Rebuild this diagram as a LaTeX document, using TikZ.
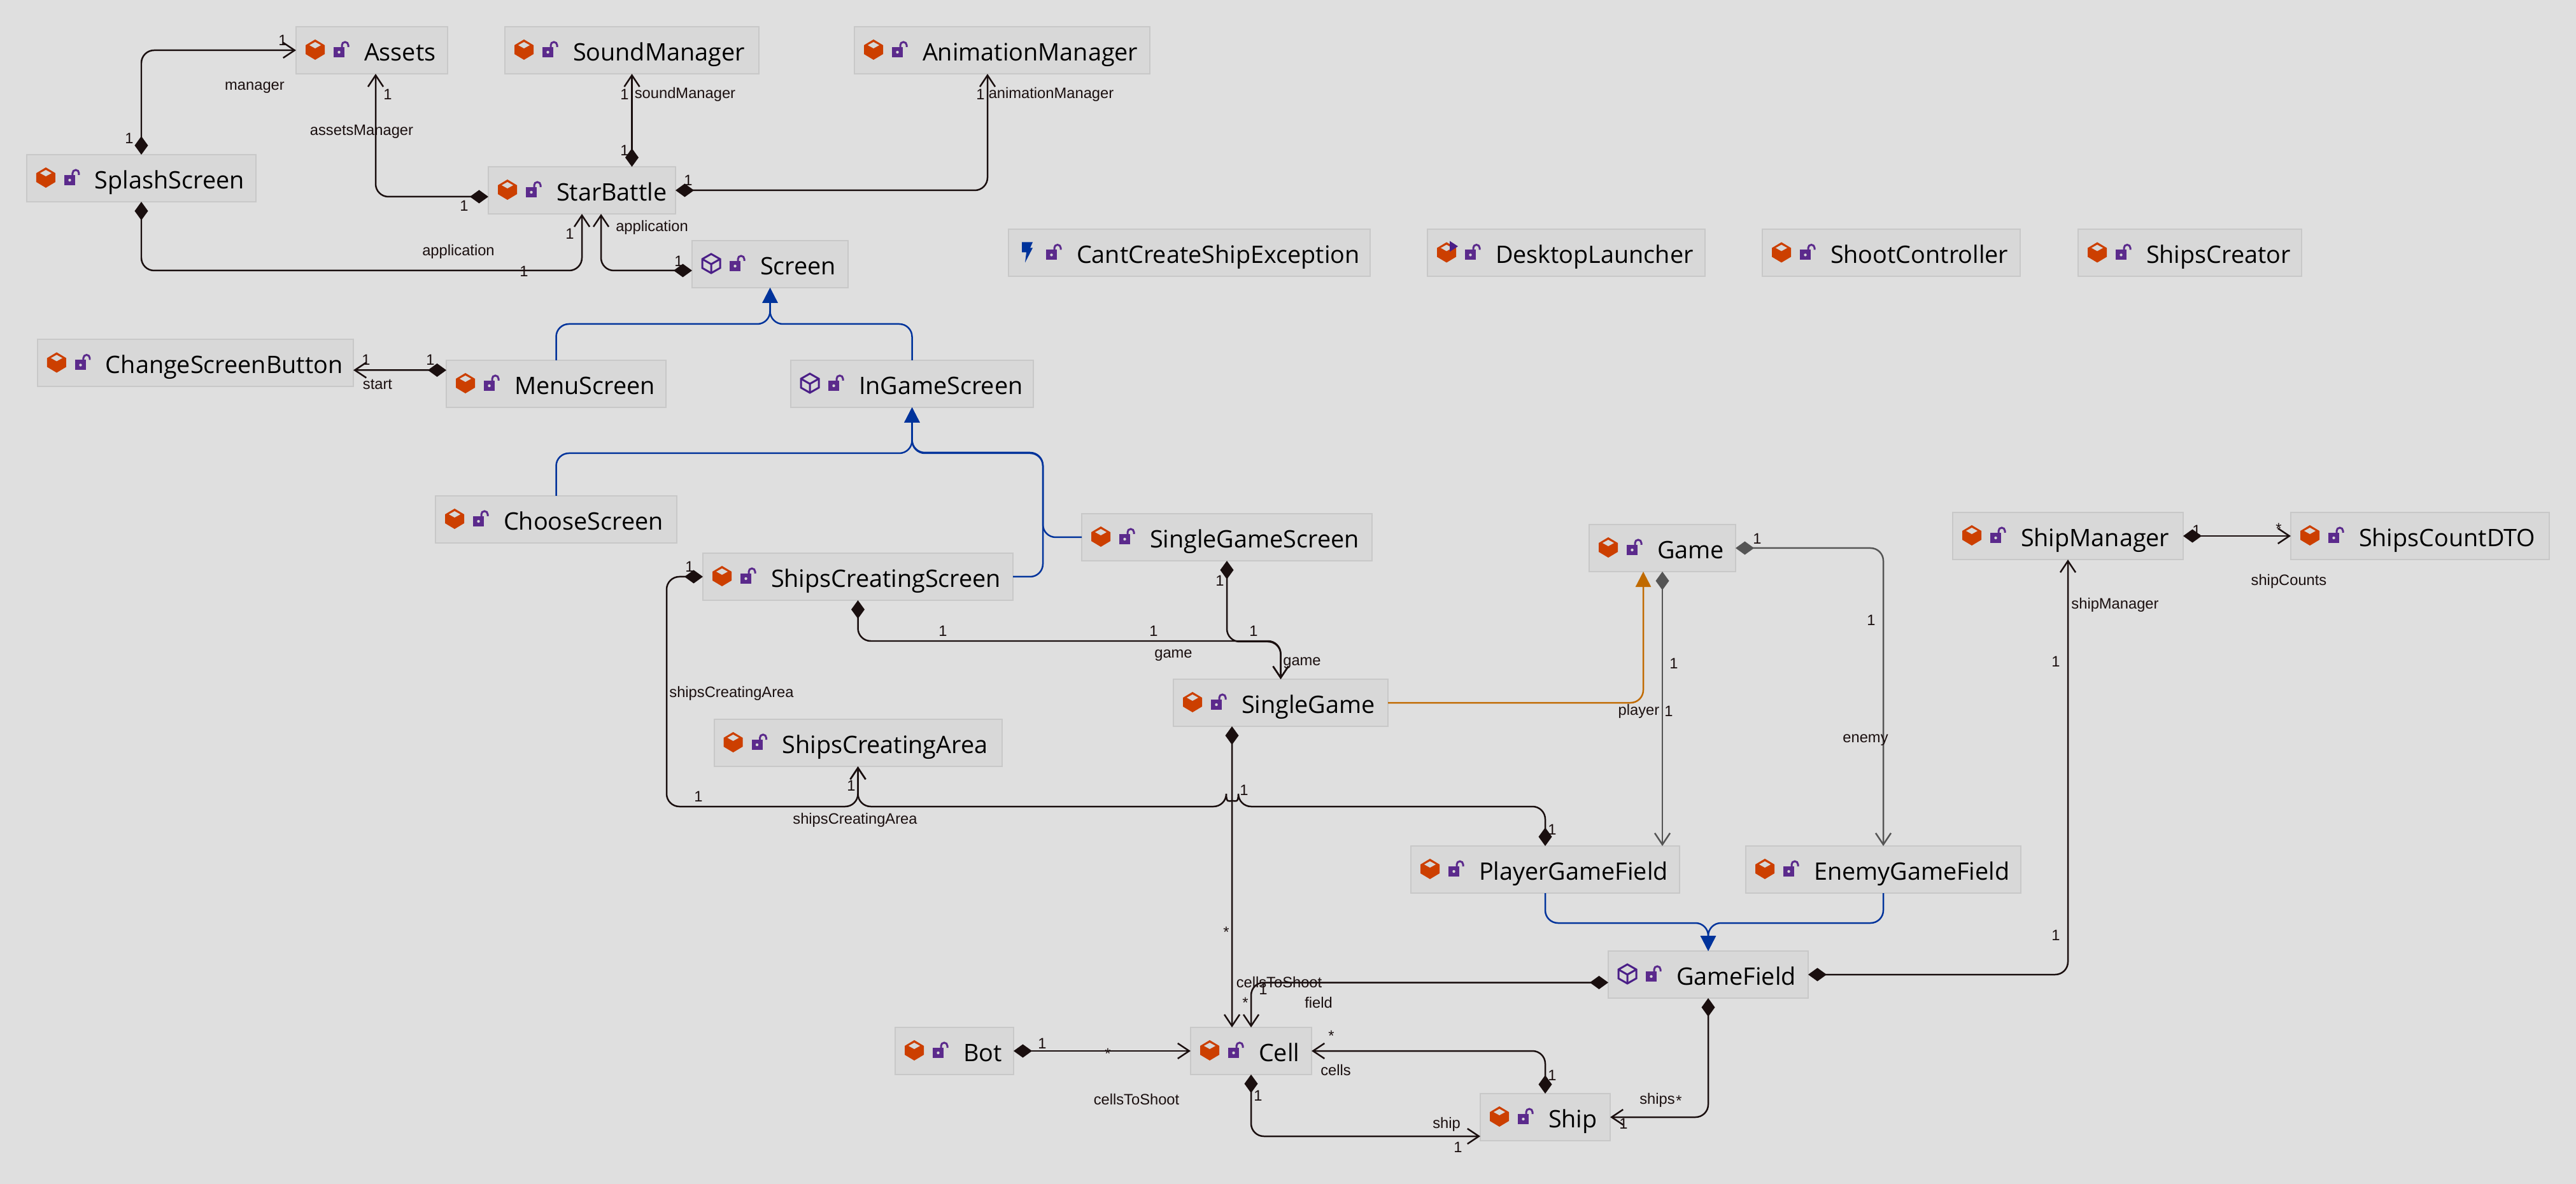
\documentclass[tikz,border=0pt]{standalone}
\usepackage{fontspec}
\usepackage{tikz}
\usetikzlibrary{arrows.meta, calc, positioning}
\setmainfont{Open Sans}
\newfontfamily\lblfont{Liberation Sans}

\definecolor{pagebg}{HTML}{DFDFDF}
\definecolor{boxfill}{HTML}{D8D8D8}
\definecolor{boxline}{HTML}{C8C8C8}
\definecolor{iconorange}{HTML}{CC3F00}
\definecolor{iconpurple}{HTML}{4A1E87}
\definecolor{lockpurple}{HTML}{5B2A8C}
\definecolor{genblue}{HTML}{00339B}
\definecolor{implorange}{HTML}{C06A00}
\definecolor{assocblack}{HTML}{1A0F0F}
\definecolor{assocgray}{HTML}{555555}

% icons are drawn from the north west corner of the box
\newcommand{\lockicon}{
    \fill[lockpurple] (.59,-.32) rectangle (.76,-.48);
    \fill[boxfill] (.675,-.40) circle (.022);
    \draw[lockpurple, line width=.03cm] (.72,-.33) -- (.72,-.29) arc[start angle=180, end angle=0, radius=.05] -- (.82,-.32);
}
\newcommand{\classicon}{
    \fill[iconorange] (.30,-.20) -- (.45,-.29) -- (.45,-.43) -- (.30,-.52) -- (.15,-.43) -- (.15,-.29) -- cycle;
    \fill[boxfill] (.21,-.29) -- (.30,-.24) -- (.39,-.29) -- (.30,-.34) -- cycle;
}
\newcommand{\ifaceicon}{
    \draw[iconpurple, line width=.03cm] (.30,-.21) -- (.44,-.29) -- (.44,-.43) -- (.30,-.51) -- (.16,-.43) -- (.16,-.29) -- cycle;
    \draw[iconpurple, line width=.03cm] (.16,-.29) -- (.30,-.37) -- (.44,-.29) (.30,-.37) -- (.30,-.51);
}
\newcommand{\boltIcon}{
    \fill[genblue] (.21,-.20) -- (.38,-.20) -- (.34,-.29) -- (.38,-.29) -- (.26,-.52) -- (.28,-.36) -- (.21,-.36) -- cycle;
}
\newcommand{\runIcon}{
    \fill[iconpurple] (.35,-.18) -- (.48,-.265) -- (.35,-.35) -- cycle;
}

\tikzstyle{typebox} = [draw=boxline, fill=boxfill, line width=.02cm, anchor=north west, outer sep=0pt,
    inner xsep=.21cm, inner ysep=0pt, minimum width=#1cm, minimum height=.74cm, text width=#1cm-.42cm,
    align=left, text height=.36cm, text depth=.03cm, font=\fontsize{10.75}{12}\selectfont,
    execute at begin node={\hyphenpenalty=10000\hspace*{.86cm}}]
\tikzstyle{lbl} = [inner sep=0pt, yshift=-.025cm, text=assocblack, font=\lblfont\fontsize{6.75}{8}\selectfont]
\tikzstyle{assoc} = [draw=assocblack, line width=.025cm, rounded corners=.2cm,
    {Diamond[length=.29cm,width=.21cm]}-{Straight Barb[length=.18cm,width=.24cm]}]
\tikzstyle{grayassoc} = [assoc, draw=assocgray, fill=none, color=assocgray]
\tikzstyle{extends} = [draw=genblue, line width=.025cm, rounded corners=.2cm, -{Triangle[length=.24cm,width=.24cm,fill=genblue]}]
\tikzstyle{implements} = [draw=implorange, line width=.025cm, rounded corners=.2cm, -{Triangle[length=.24cm,width=.24cm,fill=implorange]}]

\begin{document}
\begin{tikzpicture}[>=Latex]
    \fill[pagebg] (0,0) rectangle (40.46,-18.6);
    \useasboundingbox (0,0) rectangle (40.46,-18.6);

    % upper part
    \node[typebox=2.38] (Assets) at (4.65,-.42) {Assets};
    \node[typebox=3.99, right=.9cm of Assets] (SoundManager) {SoundManager};
    \node[typebox=4.64, right=1.5cm of SoundManager] (AnimationManager) {AnimationManager};
    \node[typebox=3.60, below left=1.27cm and .63cm of Assets] (SplashScreen) {SplashScreen};
    \node[typebox=2.94, below right=1.46cm and .64cm of Assets] (StarBattle) {StarBattle};
    \node[typebox=2.45, below right=.42cm and .26cm of StarBattle] (Screen) {Screen};
    \node[typebox=3.45, below left=1.14cm and .41cm of Screen] (MenuScreen) {MenuScreen};
    \node[typebox=4.96, left=1.46cm of MenuScreen, yshift=.325cm] (ChangeScreenButton) {ChangeScreenButton};
    \node[typebox=3.81, right=1.96cm of MenuScreen] (InGameScreen) {InGameScreen};
    \node[typebox=3.79, below=1.39cm of MenuScreen] (ChooseScreen) {ChooseScreen};

    % row without connectors
    \node[typebox=5.68, right=2.52cm of Screen, yshift=.175cm] (CantCreateShipException) {CantCreateShipException};
    \node[typebox=4.36, right=.9cm of CantCreateShipException] (DesktopLauncher) {DesktopLauncher};
    \node[typebox=4.05, right=.9cm of DesktopLauncher] (ShootController) {ShootController};
    \node[typebox=3.51, right=.91cm of ShootController] (ShipsCreator) {ShipsCreator};

    % game part
    \node[typebox=4.87, below right=.16cm and .41cm of ChooseScreen] (ShipsCreatingScreen) {ShipsCreatingScreen};
    \node[typebox=4.56, below right=1.67cm and .76cm of InGameScreen] (SingleGameScreen) {SingleGameScreen};
    \node[typebox=3.37, below right=1.24cm and 2.52cm of ShipsCreatingScreen] (SingleGame) {SingleGame};
    \node[typebox=4.52, below=1.87cm of ShipsCreatingScreen] (ShipsCreatingArea) {ShipsCreatingArea};
    \node[typebox=2.30, above right=1.69cm and 3.16cm of SingleGame] (Game) {Game};
    \node[typebox=3.62, right=3.41cm of Game, yshift=.19cm] (ShipManager) {ShipManager};
    \node[typebox=4.06, right=1.69cm of ShipManager] (ShipsCountDTO) {ShipsCountDTO};
    \node[typebox=4.22, below right=1.88cm and .36cm of SingleGame] (PlayerGameField) {PlayerGameField};
    \node[typebox=4.32, right=1.04cm of PlayerGameField] (EnemyGameField) {EnemyGameField};
    \node[typebox=3.14, below=.91cm of PlayerGameField, xshift=2.56cm] (GameField) {GameField};
    \node[typebox=1.90, below left=.46cm and 4.66cm of GameField] (Cell) {Cell};
    \node[typebox=1.86, left=2.78cm of Cell] (Bot) {Bot};
    \node[typebox=2.04, below right=.30cm and 2.65cm of Cell] (Ship) {Ship};

    % icons
    \foreach \boxname in {Assets, SoundManager, AnimationManager, SplashScreen, StarBattle, MenuScreen,
        ChangeScreenButton, ChooseScreen, ShootController, ShipsCreator, ShipsCreatingScreen,
        SingleGameScreen, SingleGame, ShipsCreatingArea, Game, ShipManager, ShipsCountDTO,
        PlayerGameField, EnemyGameField, Cell, Bot, Ship, DesktopLauncher}
        \begin{scope}[shift={(\boxname.north west)}] \classicon \end{scope};
    \foreach \boxname in {Screen, InGameScreen, GameField}
        \begin{scope}[shift={(\boxname.north west)}] \ifaceicon \end{scope};
    \begin{scope}[shift={(CantCreateShipException.north west)}] \boltIcon \end{scope}
    \begin{scope}[shift={(DesktopLauncher.north west)}] \runIcon \end{scope}
    \foreach \boxname in {Assets, SoundManager, AnimationManager, SplashScreen, StarBattle, MenuScreen,
        ChangeScreenButton, ChooseScreen, ShootController, ShipsCreator, ShipsCreatingScreen,
        SingleGameScreen, SingleGame, ShipsCreatingArea, Game, ShipManager, ShipsCountDTO,
        PlayerGameField, EnemyGameField, Cell, Bot, Ship, DesktopLauncher, Screen, InGameScreen,
        GameField, CantCreateShipException}
        \begin{scope}[shift={(\boxname.north west)}] \lockicon \end{scope};

    % associations
    \draw[assoc] (SplashScreen.north) |- (Assets.west);
    \draw[assoc] ($(StarBattle.west)+(0,-.1)$) -| ($(Assets.south)+(.06,0)$);
    \draw[assoc] (StarBattle.north -| SoundManager.south) -- (SoundManager.south);
    \draw[assoc] (StarBattle.east) -| ($(AnimationManager.south)+(-.23,0)$);
    \draw[assoc] (SplashScreen.south) -- ++(0,-1.08) -| (StarBattle.south);
    \draw[assoc] ($(Screen.west)+(0,-.1)$) -| ($(StarBattle.south)+(.3,0)$);
    \draw[assoc] ($(MenuScreen.west)+(0,.215)$) -- ($(ChangeScreenButton.east)+(0,-.11)$);
    \draw[assoc] (ShipsCreatingScreen.west) -- ++(-.57,0) -- ++(0,-3.61) -| (ShipsCreatingArea.south);
    \draw[assoc] (PlayerGameField.north) -- ++(0,.62) -- ++(-4.82,0)
        arc[start angle=0, end angle=180, x radius=.095, y radius=.09] -| (ShipsCreatingArea.south);
    \draw[assoc] (ShipsCreatingScreen.south) -- ++(0,-.64) -| (SingleGame.north);
    \draw[assoc] (SingleGameScreen.south) -- ++(0,-1.27) -| (SingleGame.north);
    \draw[assoc] ($(SingleGame.south)+(-.765,0)$) -- ($(Cell.north)+(-.3,0)$);
    \draw[assoc] ($(GameField.west)+(0,-.125)$) -| (Cell.north);
    \draw[assoc] (Bot.east) -- (Cell.west);
    \draw[assoc] (Ship.north) |- (Cell.east);
    \draw[assoc] (Cell.south) |- ($(Ship.west)+(0,-.3)$);
    \draw[assoc] (GameField.south) |- (Ship.east);
    \draw[assoc] (GameField.east) -| (ShipManager.south);
    \draw[assoc] (ShipManager.east) -- (ShipsCountDTO.west);
    \draw[grayassoc] (Game.south) -- (Game.south |- PlayerGameField.north);
    \draw[grayassoc] (Game.east) -| (EnemyGameField.north);

    % inheritance
    \draw[extends] (MenuScreen.north) -- ++(0,.57) -| (Screen.south);
    \draw[extends] (InGameScreen.north) -- ++(0,.57) -| (Screen.south);
    \draw[extends] (ChooseScreen.north) -- ++(0,.67) -| (InGameScreen.south);
    \draw[extends] (SingleGameScreen.west) -- ++(-.61,0) -- ++(0,1.32) -| (InGameScreen.south);
    \draw[extends] (ShipsCreatingScreen.east) -- ++(.47,0) -- ++(0,1.95) -| (InGameScreen.south);
    \draw[extends] (PlayerGameField.south) -- ++(0,-.47) -| (GameField.north);
    \draw[extends] (EnemyGameField.south) -- ++(0,-.47) -| (GameField.north);
    \draw[implements] (SingleGame.east) -| ($(Game.south)+(-.3,0)$);

    % role names
    \node[lbl] (lblManager) at (4.00,-1.35) {manager};
    \node[lbl] (lblAssetsManager) at (5.68,-2.04) {assetsManager};
    \node[lbl] (lblSoundManager) at (10.76,-1.46) {soundManager};
    \node[lbl] (lblAnimationManager) at (16.51,-1.46) {animationManager};
    \node[lbl] (lblApplicationA) at (7.20,-3.93) {application};
    \node[lbl] (lblApplicationB) at (10.24,-3.55) {application};
    \node[lbl] (lblStart) at (5.93,-6.01) {start};
    \node[lbl] (lblAreaA) at (11.49,-10.87) {shipsCreatingArea};
    \node[lbl] (lblAreaB) at (13.43,-12.86) {shipsCreatingArea};
    \node[lbl] (lblGameA) at (18.43,-10.27) {game};
    \node[lbl] (lblGameB) at (20.45,-10.39) {game};
    \node[lbl] (lblPlayer) at (25.74,-11.15) {player};
    \node[lbl] (lblEnemy) at (29.30,-11.60) {enemy};
    \node[lbl] (lblShipManager) at (33.22,-9.48) {shipManager};
    \node[lbl] (lblShipCounts) at (35.95,-9.11) {shipCounts};
    \node[lbl] (lblCellsShootA) at (20.09,-15.41) {cellsToShoot};
    \node[lbl] (lblField) at (20.71,-15.73) {field};
    \node[lbl] (lblCellsShootB) at (17.85,-17.25) {cellsToShoot};
    \node[lbl] (lblCells) at (20.98,-16.79) {cells};
    \node[lbl] (lblShip) at (22.72,-17.64) {ship};
    \node[lbl] (lblShips) at (26.03,-17.26) {ships};

    % multiplicities
    \node[lbl] (oneA) at (4.44,-.61) {1};
    \node[lbl] (oneB) at (2.03,-2.15) {1};
    \node[lbl] (oneC) at (6.09,-1.46) {1};
    \node[lbl] (oneD) at (7.29,-3.21) {1};
    \node[lbl] (oneE) at (9.81,-1.46) {1};
    \node[lbl] (oneF) at (9.81,-2.34) {1};
    \node[lbl] (oneG) at (10.81,-2.81) {1};
    \node[lbl] (oneH) at (15.40,-1.46) {1};
    \node[lbl] (oneI) at (8.23,-4.24) {1};
    \node[lbl] (oneJ) at (8.95,-3.65) {1};
    \node[lbl] (oneK) at (10.66,-4.08) {1};
    \node[lbl] (oneL) at (5.75,-5.63) {1};
    \node[lbl] (oneM) at (6.76,-5.63) {1};
    \node[lbl] (oneN) at (10.83,-8.88) {1};
    \node[lbl] (oneO) at (10.97,-12.49) {1};
    \node[lbl] (oneP) at (13.37,-12.32) {1};
    \node[lbl] (oneQ) at (24.38,-13.01) {1};
    \node[lbl] (oneR) at (14.81,-9.89) {1};
    \node[lbl] (oneS) at (18.12,-9.89) {1};
    \node[lbl] (oneT) at (19.69,-9.89) {1};
    \node[lbl] (oneU) at (19.16,-9.10) {1};
    \node[lbl] (oneV) at (19.54,-12.39) {1};
    \node[lbl] (oneW) at (26.29,-10.40) {1};
    \node[lbl] (oneX) at (26.21,-11.15) {1};
    \node[lbl] (oneY) at (27.60,-8.44) {1};
    \node[lbl] (oneZ) at (29.39,-9.72) {1};
    \node[lbl] (oneAA) at (34.50,-8.31) {1};
    \node[lbl] (oneAB) at (32.29,-10.37) {1};
    \node[lbl] (oneAC) at (32.29,-14.67) {1};
    \node[lbl] (oneAD) at (19.84,-15.52) {1};
    \node[lbl] (oneAE) at (16.37,-16.37) {1};
    \node[lbl] (oneAF) at (24.38,-16.87) {1};
    \node[lbl] (oneAG) at (19.76,-17.19) {1};
    \node[lbl] (oneAH) at (22.90,-18.00) {1};
    \node[lbl] (oneAI) at (25.50,-17.63) {1};

    \node[lbl] (manyA) at (35.79,-8.28) {*};
    \node[lbl] (manyB) at (19.26,-14.62) {*};
    \node[lbl] (manyC) at (19.56,-15.73) {*};
    \node[lbl] (manyD) at (17.40,-16.53) {*};
    \node[lbl] (manyE) at (20.91,-16.25) {*};
    \node[lbl] (manyF) at (26.37,-17.27) {*};
\end{tikzpicture}
\end{document}
